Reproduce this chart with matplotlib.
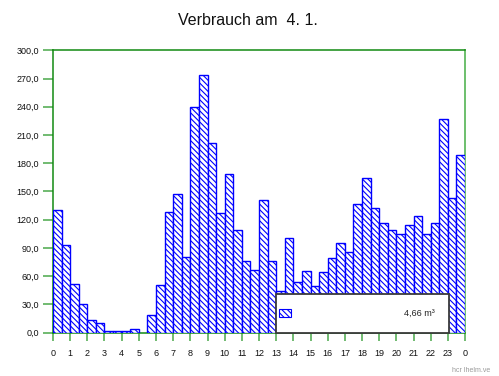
import numpy as np
import matplotlib.pyplot as plt
from matplotlib.patches import Rectangle

# half-hourly consumption, 48 slots from 0:00 to 24:00
slot_start = np.arange(48) * 0.5
usage = [130, 93, 52, 31, 13.5, 10.5, 2, 2, 2, 3.5, 0, 19,
         51, 128, 147, 80, 239.5, 274, 201, 127, 168.5, 109, 76, 67,
         140.5, 76, 44.5, 101, 54, 66, 50, 65, 79, 95, 85.5, 136.5,
         164.5, 132, 117, 109, 104.5, 114, 123.5, 104.5, 117, 226.5, 143, 189]

hour_ticks = np.arange(25)
hour_labels = [str(h % 24) for h in hour_ticks]
y_ticks = np.arange(0, 301, 30)
y_labels = [f"{v:.1f}".replace(".", ",") for v in y_ticks]

title = "Verbrauch am  4. 1."
total_label = "4,66 m\u00b3"

FONT = ['Liberation Sans Narrow', 'Liberation Sans', 'DejaVu Sans']
GREEN = '#128a12'
TICK_GREEN = '#4aa84a'
BLUE = '#0000ff'
HATCH = '\\' * 6

plt.rcParams['hatch.linewidth'] = 0.8
plt.rcParams['hatch.color'] = BLUE

fig = plt.figure(figsize=(4.99, 3.76), dpi=100)
ax = fig.add_axes([0.1062, 0.1152, 0.8257, 0.7510])

edges = [BLUE if v > 0 else 'none' for v in usage]
ax.bar(slot_start, usage, width=0.5, align='edge', facecolor='white',
       edgecolor=edges, linewidth=1.0, hatch=HATCH, zorder=3)

ax.set_xlim(0, 24)
ax.set_ylim(0, 300)
ax.set_xticks(hour_ticks)
ax.set_xticklabels(hour_labels, family=FONT, fontsize=6.5)
ax.set_yticks(y_ticks)
ax.set_yticklabels(y_labels, family=FONT, fontsize=6.5)
ax.tick_params(axis='y', direction='out', length=7.2, width=1.1,
               color=TICK_GREEN, pad=3, labelcolor='#111111')
ax.tick_params(axis='x', direction='out', length=5.5, width=1.1,
               color=TICK_GREEN, pad=6, labelcolor='#111111')
for side in ('left', 'top', 'bottom'):
    ax.spines[side].set_color(GREEN)
    ax.spines[side].set_linewidth(1.1)
ax.spines['right'].set_color('#6cbf6c')
ax.spines['right'].set_linewidth(1.4)

# total box drawn over the afternoon bars
ax.add_patch(Rectangle((13, 0), 10.07, 40.8, facecolor='white',
                       edgecolor='#3a3a3a', linewidth=1.3, zorder=5,
                       clip_on=False))
ax.add_patch(Rectangle((13.18, 16.4), 0.67, 8.5, facecolor='white',
                       edgecolor=BLUE, linewidth=0.8, hatch=HATCH, zorder=6))
ax.text(22.25, 20.9, total_label, ha='right', va='center', family=FONT,
        fontsize=6.5, color='#222222', zorder=7)

fig.text(0.497, 0.945, title, ha='center', va='center', family=FONT,
         fontsize=11.5, color='#111111')
fig.text(0.905, 0.005, "hcr lhelm.ve", ha='left', va='bottom', family=FONT,
         fontsize=5, color='#9a9a9a')

fig.savefig('out.png', dpi=100)
